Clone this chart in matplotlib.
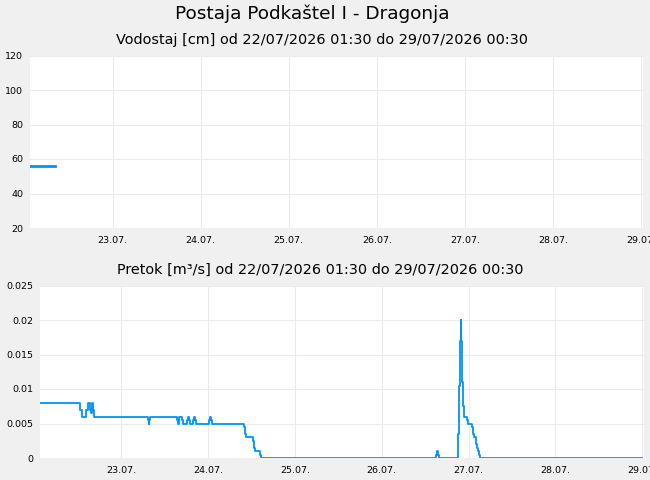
import matplotlib
matplotlib.use("Agg")
import matplotlib.pyplot as plt

# hours counted from 22/07/2026 00:00
level_hours = [1.5, 8.25]
level_values = [56, 56]

flow_hours = [1.5, 12.5, 13.0, 14.25, 14.75, 15.25, 15.5, 15.75, 16.0, 16.25, 16.5,
              31.25, 31.5, 31.75, 32.0,
              39.25, 39.75, 40.0, 40.75, 41.0, 42.25, 42.5, 42.75, 43.0, 43.75, 44.0,
              44.25, 44.5, 48.25, 48.5, 48.75, 49.0,
              58.0, 58.25, 58.5, 60.5, 60.75, 61.0, 62.25, 62.5,
              111.0, 111.25, 111.5, 111.75,
              117.0, 117.25, 117.6, 117.85, 117.95, 118.15, 118.45, 118.6, 118.8,
              119.5, 119.8, 121.0, 121.25, 121.6, 122.0, 122.25, 122.5, 122.8, 123.1,
              168.0]
flow_values = [0.008, 0.007, 0.006, 0.007, 0.008, 0.007, 0.0065, 0.007, 0.008, 0.007, 0.006,
               0.0055, 0.005, 0.0055, 0.006,
               0.0055, 0.005, 0.006, 0.0055, 0.005, 0.0055, 0.006, 0.0055, 0.005, 0.0055, 0.006,
               0.0055, 0.005, 0.0055, 0.006, 0.0055, 0.005,
               0.0045, 0.0035, 0.003, 0.0025, 0.0015, 0.001, 0.0005, 0.0,
               0.0005, 0.001, 0.0005, 0.0,
               0.0035, 0.0105, 0.017, 0.020, 0.017, 0.011, 0.0075, 0.0065, 0.006,
               0.0055, 0.005, 0.0045, 0.0035, 0.003, 0.002, 0.0015, 0.001, 0.0005, 0.0,
               0.0]

day_ticks = [24, 48, 72, 96, 120, 144, 168]
day_labels = ["23.07.", "24.07.", "25.07.", "26.07.", "27.07.", "28.07.", "29.07."]

level_yticks = [20, 40, 60, 80, 100, 120]
flow_yticks = [0, 0.005, 0.01, 0.015, 0.02, 0.025]
flow_ylabels = ["0", "0.005", "0.01", "0.015", "0.02", "0.025"]

title = "Postaja Podkaštel I - Dragonja"
sub1 = "Vodostaj [cm] od 22/07/2026 01:30 do 29/07/2026 00:30"
sub2 = "Pretok [m³/s] od 22/07/2026 01:30 do 29/07/2026 00:30"

plt.rcParams['font.family'] = ['DejaVu Sans']
BG = "#f0f0f0"
LINE = "#0095f5"
GRID = "#ebebeb"

fig = plt.figure(figsize=(6.5, 4.8), dpi=100, facecolor=BG)
ax1 = fig.add_axes([30/650, 1-228/480, 613/650, 172.5/480])
ax2 = fig.add_axes([40/650, 1-458/480, 604/650, 172.5/480])

for ax in (ax1, ax2):
    ax.set_facecolor("white")
    for s in ax.spines.values():
        s.set_visible(False)
    ax.set_xlim(1.5, 168.5)
    ax.set_xticks(day_ticks)
    ax.set_xticklabels(day_labels)
    ax.grid(True, color=GRID, linewidth=0.75)
    ax.set_axisbelow(True)
    ax.tick_params(length=0, labelsize=6.8, pad=5, colors="black")
    ax.tick_params(axis='x', pad=6)

ax1.plot(level_hours, level_values, color=LINE, linewidth=2)
ax1.set_ylim(20, 120)
ax1.set_yticks(level_yticks)

ax2.step(flow_hours, flow_values, where='post', color=LINE, linewidth=1.3)
ax2.set_ylim(0, 0.025)
ax2.set_yticks(flow_yticks)
ax2.set_yticklabels(flow_ylabels)

fig.text(312/650, 1-14/480, title, ha='center', va='center', fontsize=13.3)
fig.text(322/650, 1-40/480, sub1, ha='center', va='center', fontsize=10.4)
fig.text(320/650, 1-270/480, sub2, ha='center', va='center', fontsize=10.4)

fig.savefig("out.png", dpi=100, facecolor=BG)
